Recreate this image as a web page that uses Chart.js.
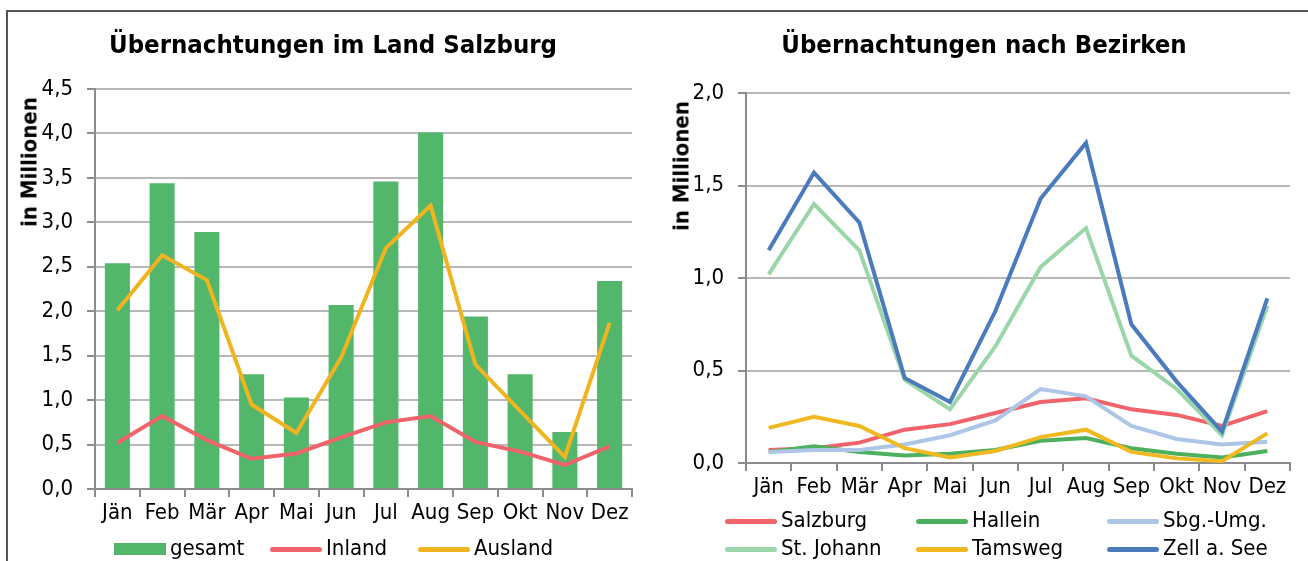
<!DOCTYPE html>
<html>
<head>
<meta charset="utf-8">
<script src="https://cdn.jsdelivr.net/npm/chart.js@4"></script>
<style>
  body { margin: 0; width: 1308px; height: 561px; overflow: hidden; background: #fff; position: relative;
         font-family: "DejaVu Sans Condensed", "DejaVu Sans", sans-serif; }
  #frame { position: absolute; left: 6px; top: 10px; width: 1400px; height: 700px; border: 2px solid #555; box-sizing: border-box; }
  canvas { position: absolute; top: 0; }
  .title { position: absolute; top: 29px; font-weight: bold; font-size: 25.5px; transform: translateX(-50%); white-space: nowrap; }
  .ylab { position: absolute; font-weight: bold; font-size: 22px; white-space: nowrap; transform: translate(-50%, -50%) rotate(-90deg); }
  .leg { position: absolute; font-size: 22px; white-space: nowrap; line-height: 22px; }
  .sw { position: absolute; }
</style>
</head>
<body>
<div id="frame"></div>
<canvas id="c1" width="655" height="561" style="left:0"></canvas>
<canvas id="c2" width="653" height="561" style="left:655px"></canvas>
<div class="title" style="left:333px">Übernachtungen im Land Salzburg</div>
<div class="title" style="left:984px">Übernachtungen nach Bezirken</div>
<div class="ylab" style="left:29px; top:162px">in Millionen</div>
<div class="ylab" style="left:681px; top:166px">in Millionen</div>
<div id="leg1"></div>
<div id="leg2"></div>
<script>
// Monate
const months = ['Jän', 'Feb', 'Mär', 'Apr', 'Mai', 'Jun', 'Jul', 'Aug', 'Sep', 'Okt', 'Nov', 'Dez'];

// Land Salzburg, Mio. Übernachtungen
const gesamt  = [2.54, 3.44, 2.89, 1.29, 1.03, 2.07, 3.46, 4.01, 1.94, 1.29, 0.64, 2.34];
const inland  = [0.52, 0.82, 0.55, 0.34, 0.40, 0.58, 0.75, 0.82, 0.53, 0.42, 0.27, 0.48];
const ausland = [2.01, 2.63, 2.35, 0.95, 0.63, 1.48, 2.71, 3.19, 1.40, 0.88, 0.36, 1.87];

// Bezirke, Mio. Übernachtungen
const salzburg  = [0.07, 0.08, 0.11, 0.18, 0.21, 0.27, 0.33, 0.35, 0.29, 0.26, 0.20, 0.28];
const hallein   = [0.06, 0.09, 0.06, 0.04, 0.05, 0.07, 0.12, 0.135, 0.08, 0.05, 0.03, 0.065];
const umgebung  = [0.06, 0.07, 0.07, 0.10, 0.15, 0.23, 0.40, 0.36, 0.20, 0.13, 0.10, 0.115];
const stjohann  = [1.02, 1.40, 1.15, 0.45, 0.29, 0.63, 1.06, 1.27, 0.58, 0.40, 0.15, 0.85];
const tamsweg   = [0.19, 0.25, 0.20, 0.08, 0.03, 0.065, 0.14, 0.18, 0.06, 0.025, 0.01, 0.16];
const zellamsee = [1.15, 1.57, 1.30, 0.46, 0.33, 0.82, 1.43, 1.73, 0.75, 0.44, 0.17, 0.89];

const fam = '"DejaVu Sans Condensed", "DejaVu Sans", sans-serif';
Chart.defaults.font.family = fam;
Chart.defaults.font.size = 22;
Chart.defaults.color = '#000';

const axisGrey = '#8c8c8c';
const gridGrey = '#b8b8b8';
const komma = v => v.toFixed(1).replace('.', ',');

function scales(ymax, yw, xh) {
    return {
        x: {
            offset: true,
            grid: { offset: true, drawOnChartArea: false, tickLength: 8, color: axisGrey, lineWidth: 2 },
            border: { color: axisGrey, width: 2 },
            ticks: { padding: 3, maxRotation: 0, autoSkip: false },
            afterFit(s) { s.height = xh; }
        },
        y: {
            min: 0, max: ymax,
            grid: { color: gridGrey, lineWidth: 2, tickLength: 8, tickColor: axisGrey },
            border: { color: axisGrey, width: 2 },
            ticks: { stepSize: 0.5, padding: 14, callback: komma },
            afterFit(s) { s.width = yw; }
        }
    };
}

const line = (label, data, color) => ({
    type: 'line', label: label, data: data, borderColor: color, backgroundColor: color,
    borderWidth: 4, pointRadius: 0, tension: 0, fill: false
});

const green = '#52b66b', red = '#f0636a', yellow = '#f0b421';

const ds1 = [
    Object.assign(line('Inland', inland, red), { order: 1 }),
    Object.assign(line('Ausland', ausland, yellow), { order: 0 }),
    { type: 'bar', label: 'gesamt', data: gesamt, backgroundColor: green,
      categoryPercentage: 1, barPercentage: 0.56, order: 2 }
];

new Chart(document.getElementById('c1'), {
    type: 'bar',
    data: { labels: months, datasets: ds1 },
    options: {
        responsive: false, animation: false,
        layout: { padding: { top: 89, right: 23, bottom: 32, left: 0 } },
        plugins: { legend: { display: false }, tooltip: { enabled: false } },
        scales: scales(4.5, 95, 40)
    }
});

const bezirke = ['Salzburg', 'Hallein', 'Sbg.-Umg.', 'St. Johann', 'Tamsweg', 'Zell a. See'];
const farben  = ['#f0636a', '#4cb05f', '#adc5e6', '#9bd6aa', '#f0b821', '#4a7bbd'];
const werte   = [salzburg, hallein, umgebung, stjohann, tamsweg, zellamsee];

const ds2 = bezirke.map((b, i) => line(b, werte[i], farben[i]));
// Zeichenreihenfolge: Zell a. See oben
ds2.forEach((d, i) => d.order = 6 - i);

new Chart(document.getElementById('c2'), {
    type: 'line',
    data: { labels: months, datasets: ds2 },
    options: {
        responsive: false, animation: false,
        layout: { padding: { top: 93, right: 18, bottom: 58, left: 0 } },
        plugins: { legend: { display: false }, tooltip: { enabled: false } },
        scales: scales(2.0, 91, 40)
    }
});

// Legenden
function legItem(parent, x, y, label, color, bar) {
    const sw = document.createElement('div');
    sw.className = 'sw';
    if (bar) {
        sw.style.cssText = `left:${x}px;top:${y - 6}px;width:52px;height:12px;background:${color}`;
    } else {
        sw.style.cssText = `left:${x}px;top:${y - 2.5}px;width:52px;height:5px;border-radius:3px;background:${color}`;
    }
    parent.appendChild(sw);
    const t = document.createElement('div');
    t.className = 'leg';
    t.style.cssText = `left:${x + 56}px;top:${y - 12}px`;
    t.textContent = label;
    parent.appendChild(t);
}
const l1 = document.getElementById('leg1');
legItem(l1, 114, 549, 'gesamt', green, true);
legItem(l1, 270, 549, 'Inland', red, false);
legItem(l1, 418, 549, 'Ausland', yellow, false);

const l2 = document.getElementById('leg2');
const cols = [725, 916, 1107], rows = [521, 549];
bezirke.forEach((b, i) => legItem(l2, cols[i % 3], rows[Math.floor(i / 3)], b, farben[i], false));
</script>
</body>
</html>
